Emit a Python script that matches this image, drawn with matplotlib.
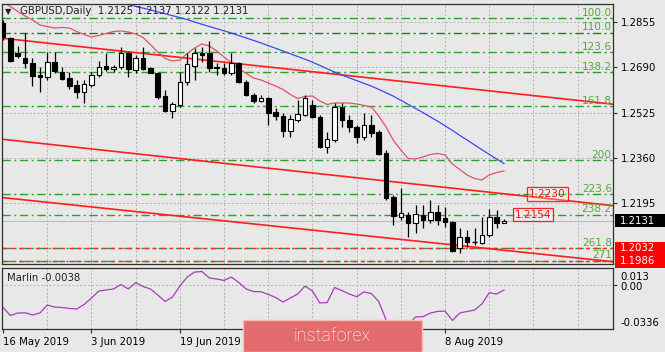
import matplotlib
matplotlib.use("Agg")
import matplotlib.pyplot as plt
from matplotlib.patches import Rectangle
from matplotlib.transforms import blended_transform_factory

# ---------------------------------------------------------------------------
# Data
# ---------------------------------------------------------------------------
opens = [1.28514, 1.27968, 1.27422, 1.27240, 1.27058, 1.26621, 1.26548, 1.27094, 1.26730, 1.26512,
         1.26257, 1.26002, 1.26257, 1.26621, 1.26949, 1.26839, 1.26912, 1.27422, 1.26803, 1.27240,
         1.26876, 1.26694, 1.25857, 1.25311, 1.25529, 1.26366, 1.26949, 1.27422, 1.27422, 1.26876,
         1.26876, 1.26694, 1.27058, 1.26366, 1.25893, 1.25675, 1.25784, 1.25275, 1.25129, 1.24583,
         1.24983, 1.25165, 1.25529, 1.25093, 1.24000, 1.24255, 1.25456, 1.24983, 1.24728, 1.24364,
         1.24801, 1.24546, 1.23782, 1.22181, 1.21452, 1.21525, 1.21234, 1.21525, 1.21343, 1.21635,
         1.21416, 1.21270, 1.20324, 1.20725, 1.20543, 1.20506, 1.20797, 1.21452, 1.2125]
highs = [1.28623, 1.28004, 1.27677, 1.28150, 1.27240, 1.26912, 1.27458, 1.27458, 1.26912, 1.26730,
         1.26439, 1.26439, 1.26730, 1.27131, 1.27422, 1.26985, 1.27640, 1.27458, 1.27349, 1.27640,
         1.26912, 1.26730, 1.26075, 1.25639, 1.26730, 1.27422, 1.27604, 1.27640, 1.27859, 1.27058,
         1.27058, 1.27422, 1.27094, 1.26439, 1.25966, 1.25893, 1.25821, 1.25420, 1.25238, 1.25165,
         1.25711, 1.25893, 1.25711, 1.25165, 1.24546, 1.25602, 1.25602, 1.25165, 1.24801, 1.25238,
         1.25165, 1.24619, 1.23891, 1.22253, 1.22508, 1.21635, 1.21889, 1.21889, 1.22071, 1.21889,
         1.21816, 1.21307, 1.21052, 1.20979, 1.21052, 1.21452, 1.21743, 1.21707, 1.2137]
lows = [1.27895, 1.27094, 1.27240, 1.26876, 1.26221, 1.26002, 1.26439, 1.26694, 1.26439, 1.26111,
        1.25784, 1.25602, 1.26184, 1.26548, 1.26767, 1.26730, 1.26839, 1.26548, 1.26694, 1.26803,
        1.26680, 1.25748, 1.25275, 1.25056, 1.25456, 1.26257, 1.26439, 1.27094, 1.26730, 1.26621,
        1.26621, 1.26621, 1.26330, 1.25857, 1.25602, 1.25639, 1.24801, 1.24983, 1.24364, 1.24364,
        1.24910, 1.25129, 1.25056, 1.23964, 1.23782, 1.24182, 1.24728, 1.24546, 1.24146, 1.24255,
        1.24364, 1.23709, 1.22071, 1.21161, 1.21343, 1.20725, 1.20870, 1.21052, 1.21234, 1.21161,
        1.21088, 1.20179, 1.20143, 1.20361, 1.20433, 1.20470, 1.20725, 1.21052, 1.2122]
closes = [1.28004, 1.27131, 1.27313, 1.27058, 1.26585, 1.26548, 1.27094, 1.26767, 1.26475, 1.26221,
          1.26002, 1.26294, 1.26621, 1.26912, 1.26839, 1.26912, 1.27422, 1.26839, 1.27240, 1.26839,
          1.26694, 1.25821, 1.25311, 1.25566, 1.26366, 1.27021, 1.27422, 1.27349, 1.26876, 1.26912,
          1.26694, 1.27058, 1.26366, 1.25893, 1.25675, 1.25784, 1.25238, 1.25129, 1.24583, 1.25020,
          1.25202, 1.25784, 1.25093, 1.24000, 1.24291, 1.25456, 1.24983, 1.24728, 1.24364, 1.24801,
          1.24510, 1.23745, 1.22144, 1.21489, 1.21598, 1.21234, 1.21561, 1.21343, 1.21635, 1.21343,
          1.21270, 1.20215, 1.20725, 1.20543, 1.20525, 1.20797, 1.21452, 1.21234, 1.2131]

ma_fast = [1.29278, 1.29114, 1.28932, 1.28769, 1.28623, 1.28441, 1.28386, 1.28332, 1.28350, 1.28332,
           1.28204, 1.28095, 1.28004, 1.28059, 1.28132, 1.28204, 1.28223, 1.28186, 1.28113, 1.27986,
           1.27731, 1.27458, 1.27222, 1.27131, 1.27167, 1.27404, 1.27604, 1.27749, 1.27677, 1.27495,
           1.27276, 1.27058, 1.26858, 1.26676, 1.26512, 1.26439, 1.26330, 1.26221, 1.26093, 1.25911,
           1.25766, 1.25838, 1.25857, 1.25675, 1.25547, 1.25602, 1.25602, 1.25602, 1.25566, 1.25511,
           1.25456, 1.25129, 1.24728, 1.24237, 1.23891, 1.23582, 1.23564, 1.23637, 1.23728, 1.23764,
           1.23709, 1.23381, 1.23181, 1.22981, 1.22854, 1.22799, 1.22981, 1.23072, 1.23127]

ma_slow_first = 15
ma_slow = [1.29300, 1.29240, 1.29180, 1.29120, 1.29055, 1.28990, 1.28920, 1.28850, 1.28780, 1.28710,
           1.28638, 1.28550, 1.28466, 1.28386, 1.28306, 1.28226, 1.28146, 1.28059, 1.27968, 1.27880,
           1.27789, 1.27691, 1.27593, 1.27495, 1.27393, 1.27294, 1.27193, 1.27087, 1.26970, 1.26847,
           1.26727, 1.26617, 1.26519, 1.26417, 1.26315, 1.26217, 1.26097, 1.25973, 1.25849, 1.25700,
           1.25551, 1.25402, 1.25252, 1.25095, 1.24939, 1.24772, 1.24604, 1.24422, 1.24252, 1.24077,
           1.23902, 1.23731, 1.23563, 1.23396]

marlin = [-0.0172, -0.0233, -0.0214, -0.0212, -0.0229, -0.0214, -0.0153, -0.0168, -0.0172, -0.0179,
          -0.0183, -0.0149, -0.0099, -0.0046, -0.0038, -0.0030, 0.0004, -0.0030, 0.0018, -0.0011,
          -0.0030, -0.0076, -0.0126, -0.0092, -0.0008, 0.0061, 0.0099, 0.0103, 0.0054, 0.0046,
          0.0035, 0.0061, 0.0019, -0.0030, -0.0050, -0.0051, -0.0072, -0.0095, -0.0130, -0.0099,
          -0.0069, -0.0008, -0.0046, -0.0137, -0.0134, -0.0019, -0.0042, -0.0069, -0.0089, -0.0053,
          -0.0065, -0.0126, -0.0267, -0.0400, -0.0420, -0.0300, -0.0244, -0.0242, -0.0214, -0.0202,
          -0.0199, -0.0271, -0.0214, -0.0202, -0.0191, -0.0145, -0.0059, -0.0069, -0.0038]

fib_labels = ["100.0", "110.0", "123.6", "138.2", "161.8", "200", "223.6", "238.2", "261.8", "271"]
fib_levels = [1.2868, 1.2815, 1.2745, 1.2672, 1.2548, 1.2351, 1.2228, 1.2154, 1.2032, 1.1986]

channel_x = [-1, 84]
channel_upper = [1.27985, 1.25523]
channel_mid = [1.24309, 1.21830]
channel_low = [1.22185, 1.19791]

support_levels = [1.2032, 1.1986]
target_levels = [1.2230, 1.2154]
last_price = 1.2131

price_ticks = [1.2855, 1.2690, 1.2525, 1.2360, 1.2195]
date_idx = [0, 12, 24, 36, 48, 60]
# 5 Jul / 23 Jul sit under the watermark in the original, so they stay blank
date_labels = ["16 May 2019", "3 Jun 2019", "19 Jun 2019", "", "", "8 Aug 2019"]

title = "GBPUSD,Daily  1.2125 1.2137 1.2122 1.2131"
marlin_title = "Marlin -0.0038"

# ---------------------------------------------------------------------------
# Figure
# ---------------------------------------------------------------------------
W, H = 665, 352
BG = "#e8e8e8"
GREEN = "#2f9e2f"
GREEN_TXT = "#55a834"
FS = 7.3

plt.rcParams["font.family"] = ["DejaVu Sans"]
fig = plt.figure(figsize=(W / 100, H / 100), dpi=100, facecolor=BG)

ax = fig.add_axes([2 / W, 1 - 264 / H, 611 / W, 260 / H], facecolor=BG)
ax2 = fig.add_axes([2 / W, 1 - 329 / H, 611 / W, 61 / H], facecolor=BG)

xlim = (-0.14, 82.8)
ax.set_xlim(*xlim)
ax.set_ylim(1.19741, 1.29205)
ax2.set_xlim(*xlim)
ax2.set_ylim(-0.0336, 0.013)

for a in (ax, ax2):
    for s in a.spines.values():
        s.set_color("#303030")
        s.set_linewidth(0.9)
    a.yaxis.tick_right()
    for gx in range(6, 84, 6):
        a.axvline(gx, color="#b4b4b4", lw=0.7, ls=(0, (2, 2)), zorder=0)

# price axis
ax.set_yticks(price_ticks)
ax.set_yticklabels([f"{p:.4f}" for p in price_ticks])
ax.tick_params(axis="y", length=3, pad=3, labelsize=FS, color="#303030")
ax.set_xticks([])
for p in price_ticks:
    ax.axhline(p, color="#b4b4b4", lw=0.7, ls=(0, (2, 2)), zorder=0)

# fibonacci levels
fib_blend = blended_transform_factory(ax.transAxes, ax.transData)
for lab, lv in zip(fib_labels, fib_levels):
    col = "#1f7f1f" if lab == "110.0" else GREEN
    ax.axhline(lv, color=col, lw=1.0, ls=(0, (6, 2.5, 1.5, 2.5)), zorder=1)
    ax.text(0.998, lv + 0.0002, lab, transform=fib_blend,
            ha="right", va="bottom", color=GREEN_TXT, fontsize=FS + 0.3)

for lv in support_levels:
    ax.axhline(lv, color="#ff2a2a", lw=1.0, ls=(0, (3, 3)), zorder=2)

ax.axhline(last_price, color="#bdbdbd", lw=0.8, zorder=1)

# channel lines
for ch in (channel_upper, channel_mid, channel_low):
    ax.plot(channel_x, ch, color="#ff1e1e", lw=1.2, zorder=2, solid_capstyle="butt")

# moving averages
ax.plot(range(len(ma_fast)), ma_fast, color="#e0506e", lw=0.9, zorder=2)
ax.plot(range(ma_slow_first, ma_slow_first + len(ma_slow)), ma_slow, color="#3c46ff", lw=0.9, zorder=2)

# candles
bw = 0.62
for i, (o, h, l, c) in enumerate(zip(opens, highs, lows, closes)):
    ax.vlines(i, l, h, color="black", lw=0.9, zorder=3)
    lo, hi = min(o, c), max(o, c)
    if hi - lo < 0.0002:
        ax.hlines((o + c) / 2, i - bw / 2, i + bw / 2, color="black", lw=1.0, zorder=4)
        continue
    ax.add_patch(Rectangle((i - bw / 2, lo), bw, hi - lo,
                           facecolor="black" if c < o else "white",
                           edgecolor="black", lw=0.8, zorder=4))

# target price boxes
for xi, lv in zip([73.9, 71.9], target_levels):
    ax.text(xi, lv, f"{lv:.4f}", ha="center", va="center", color="#ff1010", fontsize=FS + 0.3,
            zorder=6, bbox=dict(boxstyle="square,pad=0.18", fc=(1, 1, 1, 0.25), ec="#ff2020", lw=0.9))

# right-axis price boxes
blend = blended_transform_factory(ax.transAxes, ax.transData)
for lv, fc, dy in [(last_price, "black", 0.0), (support_levels[0], "#ff0000", -0.0001),
                   (support_levels[1], "#ff0000", -0.0002)]:
    ax.add_patch(Rectangle((1.0033, lv + dy - 0.00235), 0.085, 0.0047, transform=blend,
                           facecolor=fc, edgecolor="none", clip_on=False, zorder=7))
    ax.text(1.0115, lv + dy, f"{lv:.4f}", transform=blend, ha="left", va="center",
            color="white", fontsize=FS, zorder=8, clip_on=False)

# title
ax.text(0.005, 0.973, "\u25bc", transform=ax.transAxes, fontsize=6, va="center", color="#202020")
ax.text(0.0295, 0.973, title, transform=ax.transAxes, fontsize=FS, va="center", color="#202020")

# indicator panel
ax2.plot(range(len(marlin)), marlin, color="#a83cb8", lw=0.9, zorder=2)
ax2.axhline(0.0, color="#b4b4b4", lw=0.7, ls=(0, (2, 2)), zorder=0)
ax2.set_yticks([0.0])
ax2.set_yticklabels([""])
ax2.tick_params(axis="y", length=3, color="#303030")
blend2 = blended_transform_factory(ax2.transAxes, ax2.transData)
for txt, v in [("0.013", 0.0061), ("0.00", -0.0015), ("-0.0336", -0.0290)]:
    ax2.text(1.0115, v, txt, transform=blend2, ha="left", va="center", fontsize=FS, clip_on=False)
ax2.text(0.008, 0.836, marlin_title, transform=ax2.transAxes, va="center", fontsize=FS, color="#202020")

ax2.set_xticks(date_idx)
ax2.set_xticklabels(date_labels, ha="left")
ax2.tick_params(axis="x", length=3, pad=3, labelsize=FS, color="#303030")

# watermark
fig.add_artist(Rectangle((243 / W, 0), 179 / W, 32 / H, transform=fig.transFigure,
                         facecolor="#e46b6b", edgecolor="#f3bcbc", lw=1.0, zorder=20))
fig.text(332 / W, 1 - 336 / H, "instaforex", ha="center", va="center", color="white",
         fontsize=13, family="Roboto", fontweight="light", zorder=21)

fig.savefig("out.png", dpi=100, facecolor=BG)
